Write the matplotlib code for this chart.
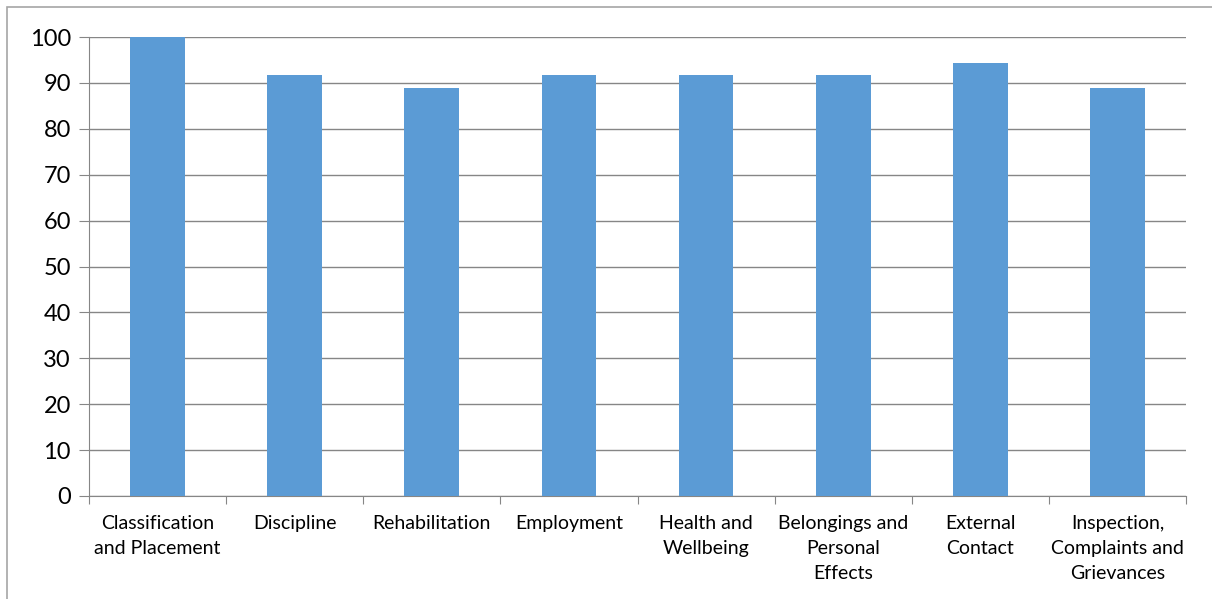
import matplotlib.pyplot as plt
from matplotlib.patches import Rectangle

categories = ['Classification\nand Placement', 'Discipline', 'Rehabilitation', 'Employment',
              'Health and\nWellbeing', 'Belongings and\nPersonal\nEffects', 'External\nContact',
              'Inspection,\nComplaints and\nGrievances']
values = [100, 91.7, 88.9, 91.7, 91.7, 91.7, 94.4, 88.9]
y_ticks = [0, 10, 20, 30, 40, 50, 60, 70, 80, 90, 100]

plt.rcParams['font.family'] = ['Lato', 'DejaVu Sans']

fig = plt.figure(figsize=(12.12, 5.99), dpi=100)
ax = fig.add_axes([89 / 1212, 1 - 496 / 599, (1186 - 89) / 1212, (496 - 37) / 599])

x = list(range(len(categories)))
ax.bar(x, values, width=0.4, color='#5B9BD5', zorder=3)

ax.set_xlim(-0.5, len(categories) - 0.5)
ax.set_ylim(0, 100)
ax.set_yticks(y_ticks)
ax.tick_params(axis='y', labelsize=17, length=7, color='#868686', pad=6, labelcolor='black')
ax.yaxis.grid(True, color='#868686', linewidth=1, zorder=0)

# boundary ticks, labels at the centres
ax.set_xticks([i - 0.5 for i in range(len(categories) + 1)])
ax.set_xticklabels([])
ax.tick_params(axis='x', which='major', length=6, color='#868686')
ax.set_xticks(x, minor=True)
ax.set_xticklabels(categories, minor=True, fontsize=14, linespacing=1.55)
ax.tick_params(axis='x', which='minor', length=0, pad=14)

for s in ['top', 'right']:
    ax.spines[s].set_visible(False)
for s in ['left', 'bottom']:
    ax.spines[s].set_color('#868686')

fig.add_artist(Rectangle((7 / 1212, -0.1), 1.2, 1 - 7 / 599 + 0.1, transform=fig.transFigure,
                         fill=False, edgecolor='#a6a6a6', linewidth=1.2))

fig.savefig('out.png', dpi=100)
